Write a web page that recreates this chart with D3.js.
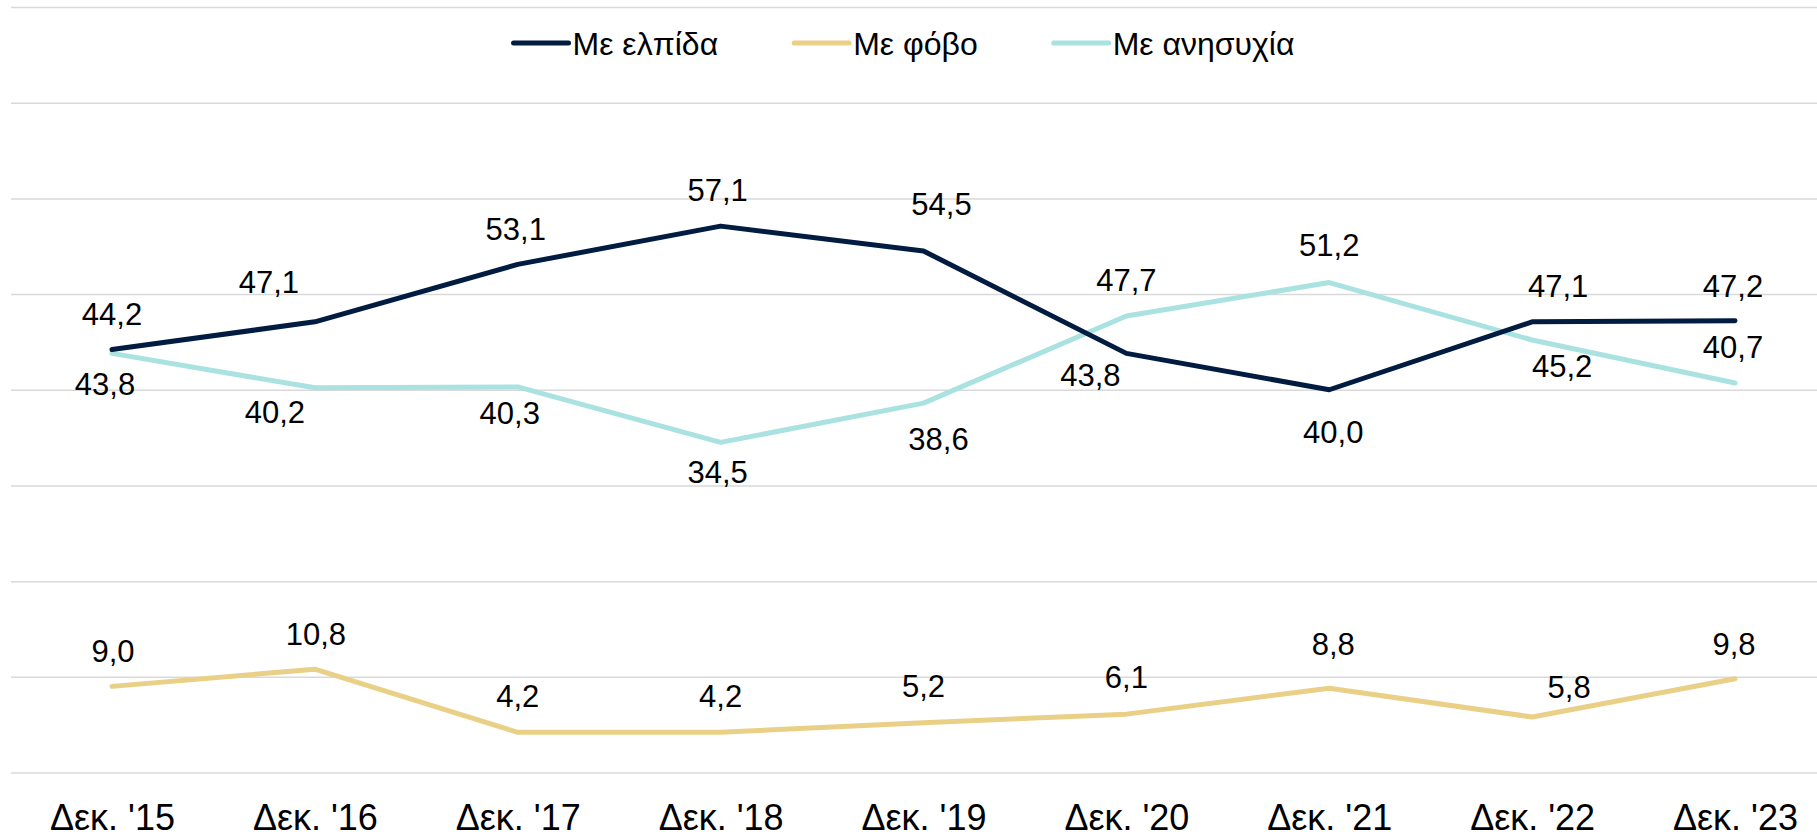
<!DOCTYPE html>
<html>
<head>
<meta charset="utf-8">
<script src="https://cdn.jsdelivr.net/npm/d3@7"></script>
<style>
  html, body { margin: 0; padding: 0; background: #fff; }
  svg text { font-family: "Liberation Sans", Arial, sans-serif; fill: #000; }
</style>
</head>
<body>
<div id="chart"></div>
<script>
// chart data
var categories = ["Δεκ. '15", "Δεκ. '16", "Δεκ. '17", "Δεκ. '18", "Δεκ. '19", "Δεκ. '20", "Δεκ. '21", "Δεκ. '22", "Δεκ. '23"];
var seriesNames = ["Με ελπίδα", "Με φόβο", "Με ανησυχία"];
var hope = [44.2, 47.1, 53.1, 57.1, 54.5, 43.8, 40.0, 47.1, 47.2];
var fear = [9.0, 10.8, 4.2, 4.2, 5.2, 6.1, 8.8, 5.8, 9.8];
var anxiety = [43.8, 40.2, 40.3, 34.5, 38.6, 47.7, 51.2, 45.2, 40.7];
var yTicks = [0, 10, 20, 30, 40, 50, 60, 70, 80];

var svgWidth = 1817;
var svgHeight = 837;

var colors = ["#021c41", "#eacf86", "#a9e2e1"];

// label nudges (dx, dy from the point to the label baseline), as placed in the original
var labelNudge = [
  [[0, -25], [-46, -29], [-2, -24], [-3, -25], [18, -36], [-36, 33], [4, 53], [26, -25], [-2, -24]],
  [[1, -24], [1, -24], [0, -25], [0, -25], [0, -26], [0, -26], [4, -33], [37, -19], [-1, -24]],
  [[-7, 42], [-40, 35], [-8, 37], [-3, 41], [15, 47], [0, -25], [0, -27], [30, 37], [-2, -25]]
];

var svg = d3.select("#chart")
  .append("svg")
  .attr("width", svgWidth)
  .attr("height", svgHeight);

var xScale = d3.scalePoint()
  .domain(categories)
  .range([112, 1735]);

var yScale = d3.scaleLinear()
  .domain([0, 80])
  .range([772.5, 7]);

// gridlines
var grid = svg.append("g")
  .attr("transform", "translate(11,0)")
  .call(d3.axisLeft(yScale).tickValues(yTicks).tickSize(-(svgWidth - 11)).tickFormat(""));
grid.select(".domain").remove();
grid.selectAll("line")
  .attr("stroke", "#d9d9d9")
  .attr("stroke-width", 1.5);

// x axis labels
var xAxis = svg.append("g")
  .attr("transform", `translate(0, ${yScale(0)})`)
  .call(d3.axisBottom(xScale).tickSize(0));
xAxis.select(".domain").remove();
xAxis.selectAll("text")
  .attr("y", 57)
  .attr("dy", 0)
  .attr("font-size", "36px")
  .style("font-family", "'Liberation Sans', Arial, sans-serif")
  .attr("fill", "#000");

var allSeries = [hope, fear, anxiety];
var fmt = d => d3.format(".1f")(d).replace(".", ",");

var line = d3.line()
  .x((d, i) => xScale(categories[i]))
  .y(d => yScale(d));

// draw anxiety first so the navy line sits on top
[2, 1, 0].forEach(function(s) {
  svg.append("path")
    .datum(allSeries[s])
    .attr("d", line)
    .attr("fill", "none")
    .attr("stroke", colors[s])
    .attr("stroke-width", 5)
    .attr("stroke-linecap", "round")
    .attr("stroke-linejoin", "round");
});

// data labels
allSeries.forEach(function(values, s) {
  svg.append("g").selectAll("text")
    .data(values)
    .enter()
    .append("text")
    .attr("x", (d, i) => xScale(categories[i]) + labelNudge[s][i][0])
    .attr("y", (d, i) => yScale(d) + labelNudge[s][i][1])
    .attr("text-anchor", "middle")
    .attr("font-size", "31px")
    .text(d => fmt(d));
});

// legend
var legend = svg.append("g");
var items = legend.selectAll("g")
  .data(seriesNames)
  .enter()
  .append("g");
items.append("line")
  .attr("x1", 0).attr("x2", 55)
  .attr("y1", 43).attr("y2", 43)
  .attr("stroke", (d, i) => colors[i])
  .attr("stroke-width", 5)
  .attr("stroke-linecap", "round");
items.append("text")
  .attr("x", 59)
  .attr("y", 55)
  .attr("font-size", "32px")
  .text(d => d);

var xPos = 0;
items.each(function() {
  var g = d3.select(this);
  g.attr("transform", `translate(${xPos},0)`);
  xPos += 59 + g.select("text").node().getComputedTextLength() + 76;
});
var legendWidth = xPos - 76;
legend.attr("transform", `translate(${904 - legendWidth / 2},0)`);
</script>
</body>
</html>
